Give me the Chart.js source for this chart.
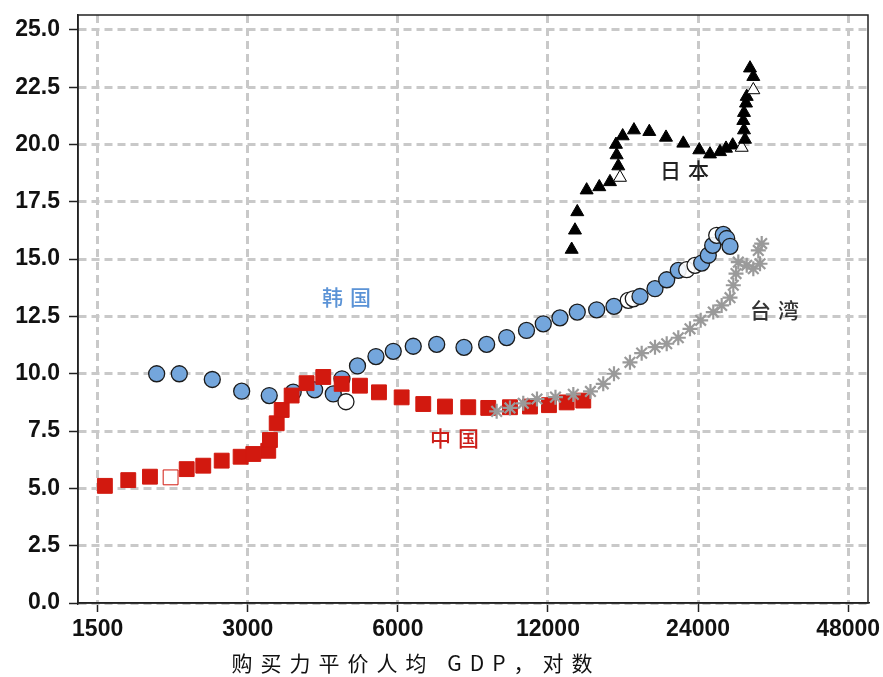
<!DOCTYPE html>
<html>
<head>
<meta charset="utf-8">
<script src="https://cdn.jsdelivr.net/npm/chart.js@4.4.1/dist/chart.umd.min.js"></script>
<style>
  html, body { margin: 0; padding: 0; background: #fff; }
  #wrap { width: 883px; height: 677px; }
</style>
</head>
<body>
<div id="wrap"><canvas id="gdpChart"></canvas></div>
<script>
// tick labels
const xTicks = [1500, 3000, 6000, 12000, 24000, 48000];
const yTicks = [0, 2.5, 5, 7.5, 10, 12.5, 15, 17.5, 20, 22.5, 25];

// PPP GDP per capita (x) and share values (y)
const chinaX = [1551, 1728, 1910, 2101, 2263, 2443, 2660, 2903, 3078, 3298, 3324, 3429, 3509, 3674, 3937, 4252, 4629, 5037, 5499, 6106, 6747, 7459, 8305, 9108, 10069, 11044, 12056, 13084, 14125];
const chinaY = [5.11, 5.36, 5.51, 5.48, 5.84, 5.99, 6.21, 6.38, 6.50, 6.64, 7.11, 7.84, 8.42, 9.05, 9.59, 9.86, 9.56, 9.48, 9.19, 8.97, 8.68, 8.57, 8.54, 8.51, 8.54, 8.57, 8.63, 8.75, 8.83];
const chinaHollow = [3];

const koreaX = [1970, 2187, 2547, 2917, 3313, 3701, 4086, 4453, 4635, 4722, 4980, 5423, 5874, 6442, 7179, 8143, 9041, 9917, 10867, 11743, 12684, 13739, 15027, 16278, 17388, 17795, 18354, 19671, 20764, 21905, 22771, 23661, 24405, 25160, 25677, 26157, 26966, 27393, 27815];
const koreaY = [10.00, 10.00, 9.75, 9.24, 9.05, 9.20, 9.30, 9.12, 9.78, 8.78, 10.34, 10.75, 10.98, 11.20, 11.28, 11.15, 11.28, 11.58, 11.89, 12.18, 12.44, 12.69, 12.79, 12.94, 13.20, 13.27, 13.37, 13.71, 14.10, 14.51, 14.54, 14.73, 14.83, 15.17, 15.60, 16.04, 16.08, 15.90, 15.56];
const koreaHollow = [9, 24, 25, 30, 31, 35];

const japanX = [13389, 13595, 13739, 14347, 15209, 15979, 16734, 16603, 16481, 16428, 16944, 17850, 19160, 20697, 22418, 24133, 25357, 26557, 27304, 28161, 29357, 29808, 29670, 29574, 29670, 29946, 30044, 30974, 30974, 30504];
const japanY = [15.42, 16.26, 17.06, 18.01, 18.15, 18.37, 18.56, 19.06, 19.54, 20.00, 20.37, 20.63, 20.56, 20.31, 20.05, 19.76, 19.58, 19.68, 19.83, 19.97, 19.87, 20.22, 20.63, 21.04, 21.39, 21.80, 22.09, 22.38, 22.96, 23.33];
const japanHollow = [6, 20, 27];

const taiwanX = [9469, 10069, 10707, 11406, 12423, 13491, 14602, 15490, 16278, 17524, 18498, 19671, 20764, 21905, 23121, 24291, 25746, 26763, 27815, 28241, 28595, 28899, 30044, 30974, 31946, 31697, 32196];
const taiwanY = [8.36, 8.51, 8.71, 8.90, 8.98, 9.10, 9.23, 9.56, 10.00, 10.50, 10.90, 11.16, 11.31, 11.57, 11.96, 12.33, 12.69, 12.98, 13.32, 13.86, 14.37, 14.87, 14.73, 14.58, 14.80, 15.38, 15.68];

// series labels drawn inside the plot, anchored in data space
const seriesNames = ['中国', '韩国', '日本', '台湾'];
const labelX = [7809, 4743, 22590, 34250];
const labelY = [7.21, 13.33, 18.88, 12.76];
const labelColors = ['#cc1f1a', '#5b93d6', '#222222', '#333333'];

const xTitle = '购买力平价人均 GDP，对数';

function points(xs, ys) {
    return xs.map((x, i) => ({ x: x, y: ys[i] }));
}
function fillFor(color, hollow) {
    return ctx => hollow.includes(ctx.dataIndex) ? 'rgba(255,255,255,0.9)' : color;
}

const boxPlugin = {
    id: 'boxAndText',
    afterDraw(chart) {
        const c = chart.ctx;
        const a = chart.chartArea;
        const xs = chart.scales.x, ys = chart.scales.y;
        c.save();
        c.strokeStyle = '#222';
        c.lineWidth = 1.5;
        c.strokeRect(a.left, a.top, a.right - a.left, a.bottom - a.top);

        c.font = '500 21px "Noto Sans CJK SC", sans-serif';
        c.textAlign = 'center';
        c.textBaseline = 'middle';
        c.letterSpacing = '7px';
        seriesNames.forEach((name, i) => {
            c.fillStyle = labelColors[i];
            c.fillText(name, xs.getPixelForValue(labelX[i]) + 3, ys.getPixelForValue(labelY[i]));
        });

        // axis title, letter-spaced like the original
        c.font = '21px "Noto Sans CJK SC", sans-serif';
        c.fillStyle = '#111';
        c.letterSpacing = '8px';
        c.fillText(xTitle, a.left + 338, 663);
        c.restore();
    }
};

document.addEventListener('DOMContentLoaded', function () {
    const ctx = document.getElementById('gdpChart').getContext('2d');
    const gridStyle = {
        color: '#c9c9c9',
        lineWidth: 3,
        tickColor: '#222',
        tickWidth: 1.5,
        tickLength: 9,
        tickBorderDash: []
    };
    const borderStyle = { display: true, color: '#222', width: 1.5, dash: [8, 5] };
    const tickFont = { family: '"Liberation Sans", Arial, sans-serif', size: 23, weight: 'bold' };

    new Chart(ctx, {
        type: 'scatter',
        data: {
            datasets: [
                {
                    label: '台湾',
                    data: points(taiwanX, taiwanY),
                    pointStyle: 'star',
                    pointRadius: 7.5,
                    borderColor: '#9a9a9a',
                    backgroundColor: '#9a9a9a',
                    pointBorderWidth: 2.2
                },
                {
                    label: '中国',
                    data: points(chinaX, chinaY),
                    pointStyle: 'rect',
                    pointRadius: 10.5,
                    backgroundColor: fillFor('#d2190f', chinaHollow),
                    borderColor: '#d2190f',
                    pointBorderWidth: 1
                },
                {
                    label: '韩国',
                    data: points(koreaX, koreaY),
                    pointStyle: 'circle',
                    pointRadius: 8,
                    backgroundColor: fillFor('#74a6dc', koreaHollow),
                    borderColor: '#1b1b1b',
                    pointBorderWidth: 1.3
                },
                {
                    label: '日本',
                    data: points(japanX, japanY),
                    pointStyle: 'triangle',
                    pointRadius: 7.5,
                    backgroundColor: fillFor('#000', japanHollow),
                    borderColor: '#000',
                    pointBorderWidth: 1
                }
            ]
        },
        options: {
            responsive: true,
            maintainAspectRatio: false,
            animation: false,
            layout: { padding: { left: 0, right: 15, top: 15, bottom: 0 } },
            plugins: {
                legend: { display: false },
                tooltip: { enabled: false }
            },
            scales: {
                x: {
                    type: 'logarithmic',
                    min: 1370,
                    max: 52600,
                    afterBuildTicks: scale => { scale.ticks = xTicks.map(v => ({ value: v })); },
                    afterFit: scale => { scale.height = 74; scale.paddingLeft = 0; scale.paddingRight = 0; },
                    grid: gridStyle,
                    border: borderStyle,
                    ticks: {
                        autoSkip: false,
                        maxRotation: 0,
                        color: '#111',
                        font: tickFont,
                        padding: 4,
                        callback: v => String(v)
                    }
                },
                y: {
                    type: 'linear',
                    min: 0,
                    max: 25.65,
                    afterBuildTicks: scale => { scale.ticks = yTicks.map(v => ({ value: v })); },
                    afterFit: scale => { scale.width = 78; scale.paddingTop = 0; scale.paddingBottom = 0; },
                    grid: gridStyle,
                    border: borderStyle,
                    ticks: {
                        color: '#111',
                        font: tickFont,
                        padding: 9,
                        callback: v => Number(v).toFixed(1)
                    }
                }
            }
        },
        plugins: [boxPlugin]
    });
});
</script>
</body>
</html>
